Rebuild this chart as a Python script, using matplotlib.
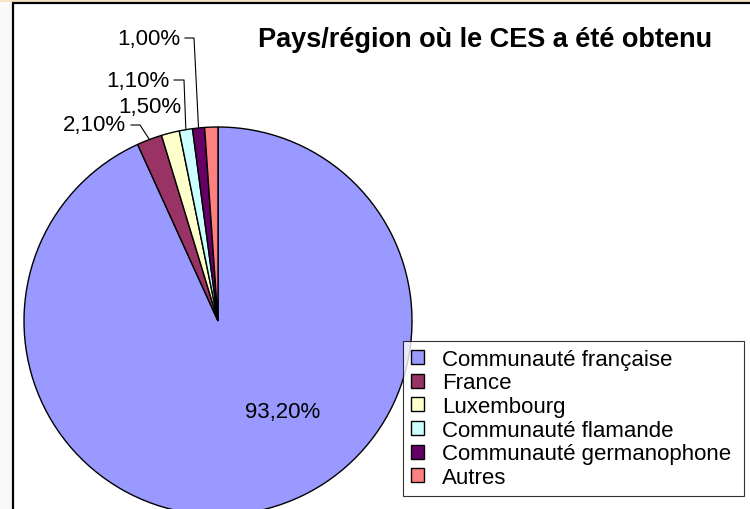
import numpy as np
import matplotlib
matplotlib.use("Agg")
import matplotlib.pyplot as plt
from matplotlib.patches import Rectangle

plt.rcParams['font.family'] = ['Liberation Sans', 'DejaVu Sans']

# data
categories = ["Communauté française", "France", "Luxembourg",
              "Communauté flamande", "Communauté germanophone", "Autres"]
values = [93.2, 2.1, 1.5, 1.1, 1.0, 1.1]
value_labels = ["93,20%", "2,10%", "1,50%", "1,10%", "1,00%", None]
colors = ["#9999FF", "#993366", "#FFFFCC", "#CCFFFF", "#660066", "#FF8080"]

W, H = 750, 510

def py(y):
    # pixel from top -> data y
    return H - y

fig = plt.figure(figsize=(7.5, 5.1), dpi=100, facecolor="#F9F9F9")
ax = fig.add_axes([0, 0, 1, 1])

# tan strip on top + chart frame
ax.add_patch(Rectangle((0, py(3)), W, 3, facecolor="#F6E4C4", edgecolor="none", zorder=0))
ax.add_patch(Rectangle((13, -20), W, py(4) + 20, facecolor="white",
                       edgecolor="black", lw=1.6, zorder=0.5))

cx, cy, R = 218, py(322), 194
wedges, _ = ax.pie(values, colors=colors, startangle=90, counterclock=False,
                   center=(cx, cy), radius=R, frame=True,
                   wedgeprops=dict(edgecolor="black", linewidth=1))
ax.set_xlim(0, W)
ax.set_ylim(0, H)
ax.set_aspect("equal")
ax.axis("off")

# big label inside
ax.text(cx + 65, cy - 91, value_labels[0], ha="center", va="center", fontsize=16)

# small labels outside with leader lines (text right edge x, y, elbow x)
label_pos = {1: (126, 126, 140), 2: (181, 108, None), 3: (169, 81, 184), 4: (180, 39, 194)}
for i, (tx, ty, ex) in label_pos.items():
    ax.text(tx, py(ty), value_labels[i], ha="right", va="center", fontsize=16)
    if ex is not None:
        w = wedges[i]
        mid = np.deg2rad((w.theta1 + w.theta2) / 2)
        px_, py_ = cx + R * np.cos(mid), cy + R * np.sin(mid)
        ax.plot([tx + 5, ex, px_], [py(ty), py(ty), py_], color="black", lw=0.8)

ax.text(485, py(40), "Pays/région où le CES a été obtenu", ha="center", va="center",
        fontsize=19.5, fontweight="bold")

leg = ax.legend(wedges, categories, loc="upper left",
                bbox_to_anchor=(403 / W, 1 - 342 / H, 341 / W, 0),
                bbox_transform=fig.transFigure, mode="expand",
                fontsize=16, frameon=True, fancybox=False, handlelength=0.6,
                handleheight=0.6, handletextpad=0.8, labelspacing=0.12,
                borderpad=0.35, borderaxespad=0)
leg.get_frame().set_edgecolor("black")
leg.get_frame().set_linewidth(0.8)

fig.savefig("out.png", dpi=100)
